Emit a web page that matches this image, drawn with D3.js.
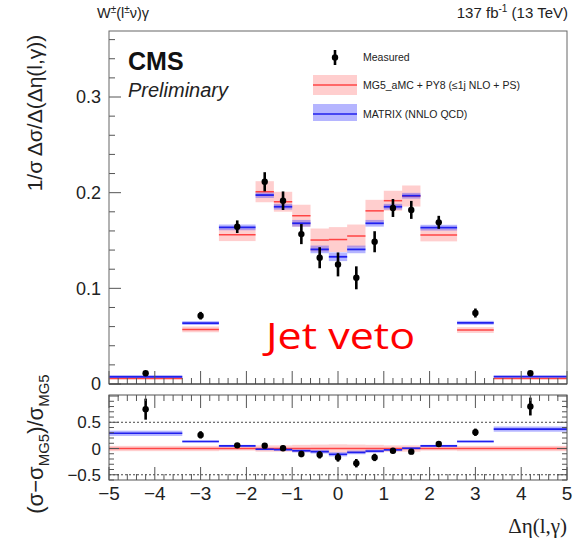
<!DOCTYPE html>
<html><head><meta charset="utf-8">
<script src="https://cdn.jsdelivr.net/npm/d3@7"></script>
<style>html,body{margin:0;padding:0;background:#fff;}svg{display:block;}</style>
</head><body>
<svg id="chart" width="582" height="542"></svg>
<script>
// ---- data ----
const binEdges = [-5,-3.4,-2.6,-1.8,-1.4,-1.0,-0.6,-0.2,0.2,0.6,1.0,1.4,1.8,2.6,3.4,5];
const binCenters = [-4.2,-3.0,-2.2,-1.6,-1.2,-0.8,-0.4,0,0.4,0.8,1.2,1.6,2.2,3.0,4.2];
const measured    = [0.0112,0.0714,0.1644,0.2114,0.1916,0.1567,0.132,0.125,0.111,0.1487,0.184,0.182,0.169,0.0742,0.0112];
const measuredErr = [0.0012,0.004,0.0066,0.010,0.0097,0.0105,0.011,0.0125,0.012,0.011,0.0094,0.0094,0.0068,0.0047,0.0012];
const mg5         = [0.0058,0.0571,0.156,0.201,0.1905,0.1759,0.1505,0.151,0.1547,0.181,0.1916,0.1965,0.1557,0.0564,0.0058];
const mg5Err      = [0.0008,0.003,0.0066,0.011,0.0104,0.0115,0.012,0.013,0.012,0.0115,0.0104,0.011,0.0066,0.003,0.0008];
const matrix      = [0.0076,0.0637,0.1637,0.1975,0.1853,0.168,0.1407,0.133,0.1407,0.168,0.1853,0.1968,0.1634,0.064,0.0078];
const matrixErr   = [0.001,0.002,0.003,0.003,0.003,0.0035,0.004,0.0045,0.004,0.0035,0.003,0.003,0.003,0.002,0.001];
const ratioMeasured    = [0.75,0.26,0.06,0.055,0.005,-0.105,-0.12,-0.17,-0.28,-0.17,-0.043,-0.06,0.087,0.31,0.80];
const ratioMeasuredErr = [0.2,0.07,0.04,0.05,0.05,0.06,0.07,0.08,0.08,0.07,0.05,0.05,0.04,0.07,0.17];
const ratioMatrix      = [0.29,0.135,0.05,-0.013,-0.02,-0.043,-0.06,-0.11,-0.074,-0.05,-0.025,0.005,0.05,0.135,0.37];
const ratioMatrixErr   = [0.05,0.02,0.02,0.02,0.025,0.03,0.035,0.04,0.035,0.03,0.025,0.02,0.02,0.02,0.05];
const ratioMG5Err      = [0.05,0.05,0.04,0.06,0.06,0.07,0.075,0.08,0.075,0.07,0.06,0.06,0.04,0.05,0.05];
const xTicks = [-5,-4,-3,-2,-1,0,1,2,3,4,5];
const yMainTicks = [0,0.1,0.2,0.3];
const yRatioTicks = [-0.5,0,0.5];

// ---- layout ----
const L = 109, R = 567;
const mainTop = 31, mainBot = 384, ratTop = 395, ratBot = 480;
const svg = d3.select("#chart");
const x = d3.scaleLinear().domain([-5,5]).range([L,R]);
const y = d3.scaleLinear().domain([0,0.369]).range([mainBot,mainTop]);
const yr = d3.scaleLinear().domain([-0.6,1.02]).range([ratBot,ratTop]);
const bins = binCenters.map((c,i)=>({i, c, x0: binEdges[i], x1: binEdges[i+1]}));

const RED_BAND = "rgba(255,60,60,0.25)", RED_LINE = "#ff4444";
const BLUE_BAND = "rgba(60,60,255,0.38)", BLUE_LINE = "#2020ee";
const SANS = "'Liberation Sans', Arial, sans-serif";

// ---- main panel ----
const gm = svg.append("g");
gm.selectAll("rect.mgb").data(bins).join("rect")
  .attr("x", d=>x(d.x0)).attr("width", d=>x(d.x1)-x(d.x0))
  .attr("y", d=>y(mg5[d.i]+mg5Err[d.i])).attr("height", d=>Math.max(1.5, y(mg5[d.i]-mg5Err[d.i])-y(mg5[d.i]+mg5Err[d.i])))
  .attr("fill", RED_BAND);
gm.selectAll("rect.mxb").data(bins).join("rect")
  .attr("x", d=>x(d.x0)).attr("width", d=>x(d.x1)-x(d.x0))
  .attr("y", d=>y(matrix[d.i]+matrixErr[d.i])).attr("height", d=>Math.max(2, y(matrix[d.i]-matrixErr[d.i])-y(matrix[d.i]+matrixErr[d.i])))
  .attr("fill", BLUE_BAND);
gm.selectAll("line.mgl").data(bins).join("line")
  .attr("x1", d=>x(d.x0)).attr("x2", d=>x(d.x1))
  .attr("y1", d=>y(mg5[d.i])).attr("y2", d=>y(mg5[d.i]))
  .attr("stroke", RED_LINE).attr("stroke-width", 1.5);
gm.selectAll("line.mxl").data(bins).join("line")
  .attr("x1", d=>x(d.x0)).attr("x2", d=>x(d.x1))
  .attr("y1", d=>y(matrix[d.i])).attr("y2", d=>y(matrix[d.i]))
  .attr("stroke", BLUE_LINE).attr("stroke-width", 1.8);
gm.selectAll("line.me").data(bins).join("line")
  .attr("x1", d=>x(d.c)).attr("x2", d=>x(d.c))
  .attr("y1", d=>y(measured[d.i]-measuredErr[d.i])).attr("y2", d=>y(measured[d.i]+measuredErr[d.i]))
  .attr("stroke", "#000").attr("stroke-width", 2.6);
gm.selectAll("circle.mp").data(bins).join("circle")
  .attr("cx", d=>x(d.c)).attr("cy", d=>y(measured[d.i])).attr("r", 3.2).attr("fill", "#000");

// main axes
const tickLen = 9, minorLen = 5;
const xMinor = d3.range(-5, 5.001, 0.2).map(v=>+v.toFixed(2));
function drawXTicks(g, yBase, dir) {
  g.selectAll(null).data(xMinor).join("line")
    .attr("x1", d=>x(d)).attr("x2", d=>x(d))
    .attr("y1", yBase).attr("y2", d=> yBase + dir*(Number.isInteger(Math.round(d*10)/10) ? tickLen+4 : minorLen+1))
    .attr("stroke", "#555").attr("stroke-width", 1);
}
drawXTicks(gm, mainBot, -1);
const yMinor = d3.range(0, 0.3601, 0.02).map(v=>+v.toFixed(3));
gm.selectAll(null).data(yMinor).join("line")
  .attr("x1", L).attr("x2", d=> L + (Math.abs(d*10 - Math.round(d*10))<1e-6 ? 12 : 6))
  .attr("y1", d=>y(d)).attr("y2", d=>y(d)).attr("stroke", "#555");
gm.selectAll("text.yl").data(yMainTicks).join("text")
  .attr("x", L-8).attr("y", d=>y(d)).attr("dy", "0.36em").attr("text-anchor","end")
  .attr("font-family", SANS).attr("font-size", 18).attr("fill","#222")
  .text(d=> d===0 ? "0" : d3.format(".1f")(d));
gm.append("rect").attr("x", L).attr("y", mainTop).attr("width", R-L).attr("height", mainBot-mainTop)
  .attr("fill","none").attr("stroke","#666").attr("stroke-width",1);
gm.append("line").attr("x1",L).attr("x2",R).attr("y1",mainBot).attr("y2",mainBot).attr("stroke","#333").attr("stroke-width",1.2);

// ---- ratio panel ----
const gr = svg.append("g");
gr.selectAll("line.dl").data([0.5,-0.5]).join("line")
  .attr("x1", L).attr("x2", R).attr("y1", d=>yr(d)).attr("y2", d=>yr(d))
  .attr("stroke","#333").attr("stroke-width",0.9).attr("stroke-dasharray","2,2");
gr.selectAll("rect.rgb").data(bins).join("rect")
  .attr("x", d=>x(d.x0)).attr("width", d=>x(d.x1)-x(d.x0))
  .attr("y", d=>yr(ratioMG5Err[d.i])).attr("height", d=>yr(-ratioMG5Err[d.i])-yr(ratioMG5Err[d.i]))
  .attr("fill", RED_BAND);
gr.selectAll("rect.rxb").data(bins).join("rect")
  .attr("x", d=>x(d.x0)).attr("width", d=>x(d.x1)-x(d.x0))
  .attr("y", d=>yr(ratioMatrix[d.i]+ratioMatrixErr[d.i])).attr("height", d=>Math.max(2, yr(ratioMatrix[d.i]-ratioMatrixErr[d.i])-yr(ratioMatrix[d.i]+ratioMatrixErr[d.i])))
  .attr("fill", BLUE_BAND);
gr.append("line").attr("x1",L).attr("x2",R).attr("y1",yr(0)).attr("y2",yr(0)).attr("stroke",RED_LINE).attr("stroke-width",1.5);
gr.selectAll("line.rxl").data(bins).join("line")
  .attr("x1", d=>x(d.x0)).attr("x2", d=>x(d.x1))
  .attr("y1", d=>yr(ratioMatrix[d.i])).attr("y2", d=>yr(ratioMatrix[d.i]))
  .attr("stroke", BLUE_LINE).attr("stroke-width", 1.6);
gr.selectAll("line.re").data(bins).join("line")
  .attr("x1", d=>x(d.c)).attr("x2", d=>x(d.c))
  .attr("y1", d=>yr(ratioMeasured[d.i]-ratioMeasuredErr[d.i])).attr("y2", d=>yr(ratioMeasured[d.i]+ratioMeasuredErr[d.i]))
  .attr("stroke", "#000").attr("stroke-width", 2.6);
gr.selectAll("circle.rp").data(bins).join("circle")
  .attr("cx", d=>x(d.c)).attr("cy", d=>yr(ratioMeasured[d.i])).attr("r", 3.2).attr("fill", "#000");
drawXTicks(gr, ratBot, -1);
drawXTicks(gr, ratTop, 1);
const yrMinor = d3.range(-0.6, 1.0001, 0.1).map(v=>+v.toFixed(2));
gr.selectAll(null).data(yrMinor).join("line")
  .attr("x1", L).attr("x2", d=> L + (Math.abs(d*2 - Math.round(d*2))<1e-6 ? 10 : 5))
  .attr("y1", d=>yr(d)).attr("y2", d=>yr(d)).attr("stroke", "#555");
gr.selectAll(null).data(yrMinor).join("line")
  .attr("x1", R).attr("x2", d=> R - (Math.abs(d*2 - Math.round(d*2))<1e-6 ? 10 : 5))
  .attr("y1", d=>yr(d)).attr("y2", d=>yr(d)).attr("stroke", "#555");
gr.selectAll("text.ryl").data(yRatioTicks).join("text")
  .attr("x", L-8).attr("y", d=>yr(d)).attr("dy", "0.36em").attr("text-anchor","end")
  .attr("font-family", SANS).attr("font-size", 17).attr("fill","#222")
  .text(d=> d===0 ? "0" : d3.format(".1f")(d).replace("-","\u2212"));
gr.append("rect").attr("x", L).attr("y", ratTop).attr("width", R-L).attr("height", ratBot-ratTop)
  .attr("fill","none").attr("stroke","#555").attr("stroke-width",1);
gr.selectAll("text.xl").data(xTicks).join("text")
  .attr("x", d=>x(d)).attr("y", 500).attr("text-anchor","middle")
  .attr("font-family", SANS).attr("font-size", 19).attr("fill","#222")
  .text(d=> String(d).replace("-","\u2212"));

// ---- titles ----
svg.append("text").attr("x", R).attr("y", 533).attr("text-anchor","end")
  .attr("font-family","'Liberation Serif', 'Times New Roman', serif").attr("font-size", 21).attr("fill","#222")
  .text("\u0394\u03b7(l,\u03b3)");
svg.append("text").attr("transform","translate(42,113) rotate(-90)").attr("text-anchor","middle")
  .attr("font-family", SANS).attr("font-size", 21).attr("fill","#222")
  .text("1/\u03c3  \u0394\u03c3/\u0394(\u0394\u03b7(l,\u03b3))");
const rt = svg.append("text").attr("transform","translate(43,444) rotate(-90)").attr("text-anchor","middle")
  .attr("font-family", SANS).attr("font-size", 22).attr("fill","#222");
rt.append("tspan").text("(\u03c3\u2212\u03c3");
rt.append("tspan").attr("font-size",15).attr("dy",6).text("MG5");
rt.append("tspan").attr("dy",-6).text(")/\u03c3");
rt.append("tspan").attr("font-size",15).attr("dy",6).text("MG5");

// header
const h1 = svg.append("text").attr("x", 97).attr("y", 18).attr("font-family", SANS).attr("font-size", 14.5).attr("fill","#222");
h1.append("tspan").text("W");
h1.append("tspan").attr("font-size",10).attr("dy",-5).text("\u00b1");
h1.append("tspan").attr("dy",5).text("(l");
h1.append("tspan").attr("font-size",10).attr("dy",-5).text("\u00b1");
h1.append("tspan").attr("dy",5).text("\u03bd)\u03b3");
const h2 = svg.append("text").attr("x", 568).attr("y", 18).attr("text-anchor","end").attr("font-family", SANS).attr("font-size", 15).attr("fill","#222");
h2.append("tspan").text("137 fb");
h2.append("tspan").attr("font-size",10).attr("dy",-6).text("-1");
h2.append("tspan").attr("dy",6).text(" (13 TeV)");

svg.append("text").attr("x", 128).attr("y", 70).attr("font-family", SANS).attr("font-weight","bold").attr("font-size", 25).attr("fill","#111").text("CMS");
svg.append("text").attr("x", 128).attr("y", 97).attr("font-family", SANS).attr("font-style","italic").attr("font-size", 20).attr("fill","#222").text("Preliminary");

// legend
const lg = svg.append("g");
lg.append("line").attr("x1",335).attr("x2",335).attr("y1",50).attr("y2",65).attr("stroke","#000").attr("stroke-width",2.6);
lg.append("circle").attr("cx",335).attr("cy",57.5).attr("r",3.2).attr("fill","#000");
lg.append("rect").attr("x",313).attr("y",75).attr("width",44).attr("height",20).attr("fill",RED_BAND);
lg.append("line").attr("x1",313).attr("x2",357).attr("y1",85).attr("y2",85).attr("stroke",RED_LINE).attr("stroke-width",1.5);
lg.append("rect").attr("x",313).attr("y",104).attr("width",44).attr("height",17).attr("fill",BLUE_BAND);
lg.append("line").attr("x1",313).attr("x2",357).attr("y1",114).attr("y2",114).attr("stroke",BLUE_LINE).attr("stroke-width",1.6);
const legTexts = [["Measured",57.5],["MG5_aMC + PY8 (\u22641j NLO + PS)",85],["MATRIX (NNLO QCD)",114]];
lg.selectAll("text").data(legTexts).join("text")
  .attr("x",363).attr("y",d=>d[1]).attr("dy","0.36em").attr("font-family",SANS).attr("font-size",10.5).attr("fill","#222")
  .text(d=>d[0]);

// Jet veto label
svg.append("text").attr("x", 266).attr("y", 349).attr("textLength", 149).attr("lengthAdjust","spacingAndGlyphs")
  .attr("font-family","'Open Sans', Lato, sans-serif").attr("font-weight", 400).attr("font-size", 37).attr("fill","#ff0000").text("Jet veto");
</script>
</body></html>
